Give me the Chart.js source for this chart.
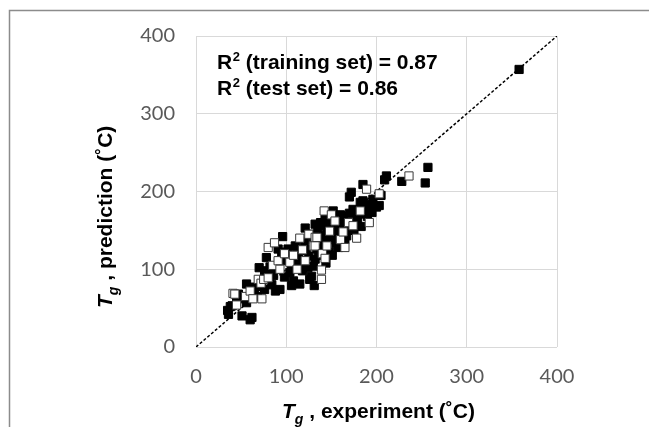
<!DOCTYPE html>
<html>
<head>
<meta charset="utf-8">
<script src="https://cdn.jsdelivr.net/npm/chart.js@4.4.0/dist/chart.umd.min.js"></script>
<style>
  html, body { margin: 0; padding: 0; background: #fff; }
  #wrap { width: 649px; height: 427px; position: relative; }
</style>
</head>
<body>
<div id="wrap"><canvas id="c" width="649" height="427"></canvas></div>
<script>
// ---- data ----
const axisTicks = [0, 100, 200, 300, 400];
const diagX = [0, 400];
const diagY = [0, 400];

const trainX = [35,36,38,40,45,47,50,51,56,56,60,62,63,65,68,70,71,73,76,76,78,78,80,82,84,86,88,90,91,93,95,96,97,98,100,102,104,106,106,108,110,110,112,113,115,116,118,119,120,121,122,124,125,126,128,128,130,130,131,132,132,134,135,136,137,138,140,141,142,143,144,145,146,148,150,151,152,153,155,156,157,158,160,160,162,163,165,165,167,168,170,170,172,173,174,175,178,179,182,183,185,185,185,186,188,190,194,195,196,200,203,205,209,211,228,254,257,358];
const trainY = [47,42,52,53,58,68,62,40,57,81,35,38,77,70,65,102,85,78,74,98,89,115,95,103,80,92,72,100,126,74,118,142,111,90,122,126,96,79,104,85,130,112,120,121,81,108,98,111,135,153,125,102,117,87,91,145,104,138,79,158,113,126,151,118,126,160,143,156,132,164,108,150,138,122,160,118,175,143,133,158,150,128,153,170,140,168,138,160,143,150,193,172,199,160,177,150,173,165,186,155,188,171,209,175,180,168,183,173,190,180,182,195,215,220,213,211,231,357];

const testX = [41,43,45,55,60,63,69,72,73,75,80,80,85,87,91,93,98,104,108,112,115,118,121,125,130,132,132,134,139,139,140,142,143,145,148,150,154,160,163,165,169,174,178,182,189,192,203,236];
const testY = [69,68,54,65,72,62,87,82,62,87,128,89,105,134,111,100,120,109,118,100,140,125,111,145,130,141,130,141,87,99,120,175,114,130,149,170,162,138,148,128,160,156,140,175,203,160,197,220];

const r2Lines = [["R", "2", " (training set) = 0.87"], ["R", "2", " (test set) = 0.86"]];
const xTitle = ["T", "g", " , experiment (\u02DAC)"];
const yTitle = ["T", "g", " , prediction (\u02DAC)"];

const toPts = (xs, ys) => xs.map((x, i) => ({ x: x, y: ys[i] }));

const TICK_COLOR = '#595959';
const GRID_COLOR = '#d9d9d9';
const TITLE_FONT = '"Liberation Sans", Arial, sans-serif';

function drawTitle(ctx, parts, size) {
  let x = 0;
  ctx.font = 'italic bold ' + size + 'px ' + TITLE_FONT;
  ctx.fillText(parts[0], x, 0);
  x += ctx.measureText(parts[0]).width;
  ctx.font = 'italic bold ' + Math.round(size * 0.66) + 'px ' + TITLE_FONT;
  ctx.fillText(parts[1], x, 6);
  x += ctx.measureText(parts[1]).width;
  ctx.font = 'bold ' + size + 'px ' + TITLE_FONT;
  ctx.fillText(parts[2], x, 0);
}

const decor = {
  id: 'decor',
  beforeDraw(chart) {
    const ctx = chart.ctx;
    ctx.save();
    ctx.fillStyle = '#fff';
    ctx.fillRect(0, 0, chart.width, chart.height);
    ctx.restore();
  },
  afterDraw(chart) {
    const ctx = chart.ctx;
    ctx.save();
    // outer frame (top and left edges)
    ctx.strokeStyle = '#8c8c8c';
    ctx.lineWidth = 1.5;
    ctx.beginPath();
    ctx.moveTo(649, 10.5);
    ctx.lineTo(9.5, 10.5);
    ctx.lineTo(9.5, 427);
    ctx.stroke();

    ctx.fillStyle = '#000';
    ctx.textBaseline = 'alphabetic';
    ctx.textAlign = 'left';

    // R^2 annotation
    const baselines = [69, 95];
    r2Lines.forEach((p, i) => {
      let x = 217;
      const y = baselines[i];
      ctx.font = 'bold 21px ' + TITLE_FONT;
      ctx.fillText(p[0], x, y);
      x += ctx.measureText(p[0]).width;
      ctx.font = 'bold 13px ' + TITLE_FONT;
      ctx.fillText(p[1], x + 0.5, y - 8);
      x += ctx.measureText(p[1]).width + 0.5;
      ctx.font = 'bold 21px ' + TITLE_FONT;
      ctx.fillText(p[2], x, y);
    });

    // x title
    ctx.save();
    ctx.translate(282, 418);
    drawTitle(ctx, xTitle, 21);
    ctx.restore();

    // y title
    ctx.save();
    ctx.translate(112, 308);
    ctx.rotate(-Math.PI / 2);
    drawTitle(ctx, yTitle, 21);
    ctx.restore();

    ctx.restore();
  }
};

new Chart(document.getElementById('c'), {
  type: 'scatter',
  data: {
    datasets: [
      {
        label: 'test set',
        data: toPts(testX, testY),
        pointStyle: 'rect',
        pointRadius: 5.8,
        pointHoverRadius: 5.8,
        backgroundColor: '#ffffff',
        borderColor: '#3a3a3a',
        borderWidth: 1
      },
      {
        label: 'training set',
        data: toPts(trainX, trainY),
        pointStyle: 'rect',
        pointRadius: 5.8,
        pointHoverRadius: 5.8,
        backgroundColor: '#000000',
        borderColor: '#000000',
        borderWidth: 1
      },
      {
        type: 'line',
        label: 'y = x',
        data: toPts(diagX, diagY),
        borderColor: '#000000',
        borderWidth: 1.5,
        borderDash: [3, 2],
        pointRadius: 0,
        fill: false
      }
    ]
  },
  options: {
    responsive: false,
    animation: false,
    devicePixelRatio: 1,
    layout: { padding: { top: 36, right: 92, left: 0, bottom: 0 } },
    plugins: {
      legend: { display: false },
      tooltip: { enabled: false },
      title: { display: false }
    },
    scales: {
      x: {
        type: 'linear',
        min: axisTicks[0],
        max: axisTicks[axisTicks.length - 1],
        afterBuildTicks: (s) => { s.ticks = axisTicks.map(v => ({ value: v })); },
        afterFit: (s) => { s.height = 80; },
        ticks: {
          color: TICK_COLOR,
          font: { family: 'Lato', size: 20 },
          padding: 18
        },
        grid: { color: GRID_COLOR, lineWidth: 1, drawTicks: false },
        border: { display: false }
      },
      y: {
        type: 'linear',
        min: axisTicks[0],
        max: axisTicks[axisTicks.length - 1],
        afterBuildTicks: (s) => { s.ticks = axisTicks.map(v => ({ value: v })); },
        afterFit: (s) => { s.width = 196; },
        ticks: {
          color: TICK_COLOR,
          font: { family: 'Lato', size: 20 },
          padding: 21
        },
        grid: { color: GRID_COLOR, lineWidth: 1, drawTicks: false },
        border: { display: false }
      }
    }
  },
  plugins: [decor]
});
</script>
</body>
</html>
